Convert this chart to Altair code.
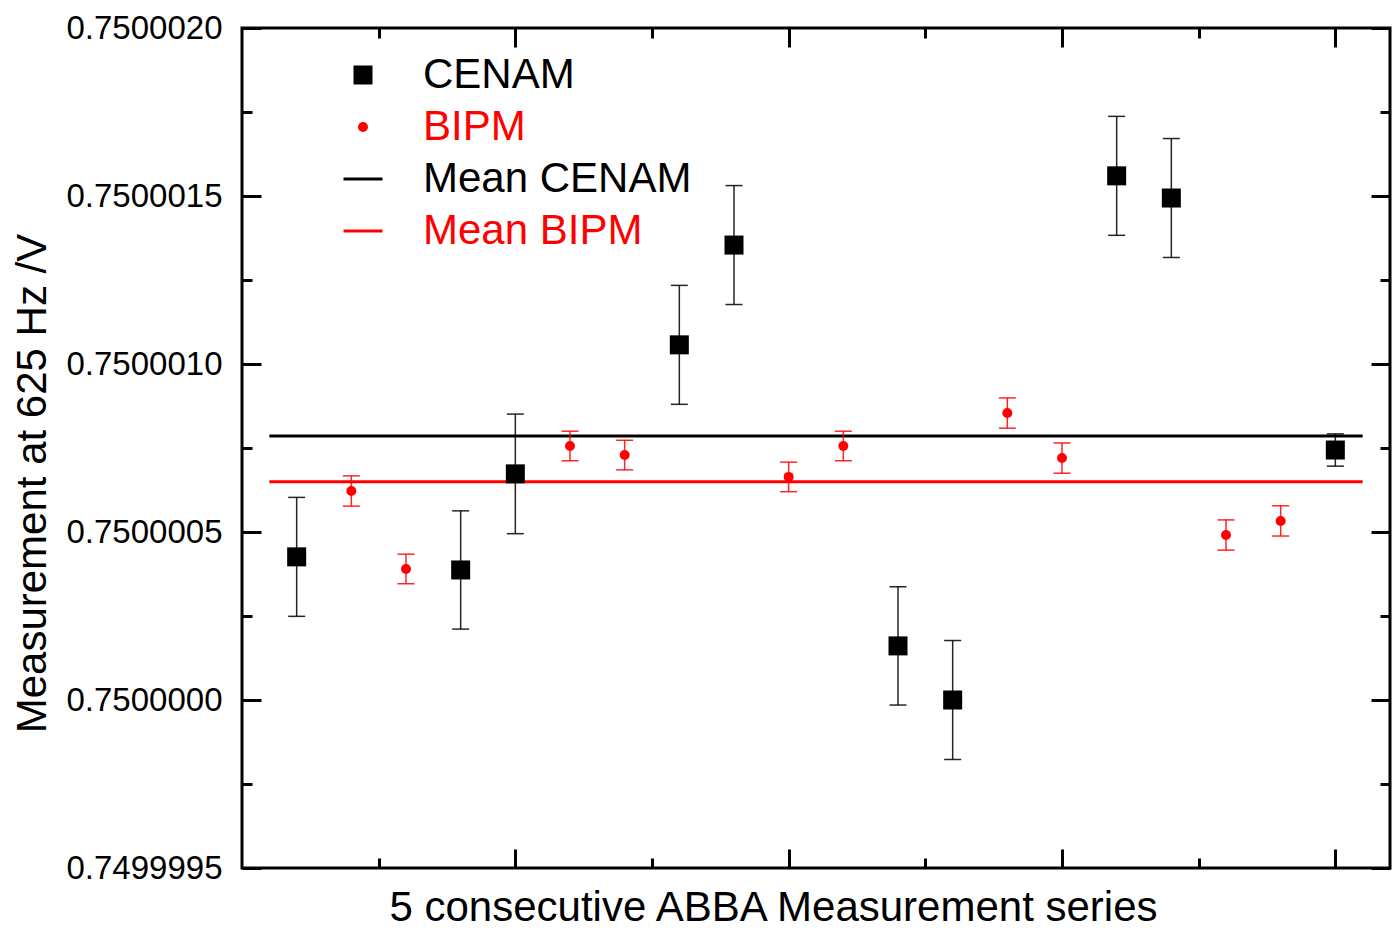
import altair as alt
import pandas as pd

FONT = "Liberation Sans"

# ---------------- data ----------------
series_names = ["CENAM", "BIPM", "Mean CENAM", "Mean BIPM"]
series_shapes = ["square", "circle", "stroke", "stroke"]
series_sizes = [361, 100, 1521, 1521]
# colour scale listed in another order (same mapping) so its legend stays separate
color_names = ["BIPM", "CENAM", "Mean BIPM", "Mean CENAM"]
color_values = ["#ff0000", "#000000", "#ff0000", "#000000"]

cenam_x = [1, 4, 5, 8, 9, 12, 13, 16, 17, 20]
cenam_y = [0.750000426, 0.750000387, 0.750000673, 0.750001057, 0.750001354,
           0.750000161, 0.750000000, 0.750001560, 0.750001494, 0.750000744]
cenam_err = [1.77e-7, 1.76e-7, 1.78e-7, 1.77e-7, 1.77e-7,
             1.76e-7, 1.77e-7, 1.77e-7, 1.77e-7, 0.48e-7]

bipm_x = [2, 3, 6, 7, 10, 11, 14, 15, 18, 19]
bipm_y = [0.750000622, 0.750000390, 0.750000756, 0.750000729, 0.750000664,
          0.750000756, 0.750000854, 0.750000720, 0.750000491, 0.750000533]
bipm_err = [0.45e-7, 0.44e-7, 0.44e-7, 0.44e-7, 0.44e-7,
            0.44e-7, 0.45e-7, 0.45e-7, 0.45e-7, 0.45e-7]

mean_names = ["Mean CENAM", "Mean BIPM"]
mean_values = [0.7500007857, 0.7500006493]
mean_x_start = [0.5, 0.5]
mean_x_end = [20.5, 20.5]

x_domain = [0, 21]
y_domain = [0.7499995, 0.7500020]
x_major = [5, 10, 15, 20]
x_minor = [2.5, 7.5, 12.5, 17.5]
y_major = [0.7499995, 0.7500000, 0.7500005, 0.7500010, 0.7500015, 0.7500020]
y_minor = [0.74999975, 0.75000025, 0.75000075, 0.75000125, 0.75000175]

x_title = "5 consecutive ABBA Measurement series"
y_title = "Measurement at 625 Hz /V"

# ---------------- tables ----------------
pts = pd.concat([
    pd.DataFrame({"x": cenam_x, "y": cenam_y, "err": cenam_err, "series": "CENAM"}),
    pd.DataFrame({"x": bipm_x, "y": bipm_y, "err": bipm_err, "series": "BIPM"}),
], ignore_index=True)
pts["lo"] = pts["y"] - pts["err"]
pts["hi"] = pts["y"] + pts["err"]

means = pd.DataFrame({"series": mean_names, "y": mean_values,
                      "xs": mean_x_start, "xe": mean_x_end})

xs = alt.Scale(domain=x_domain, nice=False, zero=False)
ys = alt.Scale(domain=y_domain, nice=False, zero=False)
color_scale = alt.Scale(domain=color_names, range=color_values)


def tick_axis(orient, values, size):
    return alt.Axis(orient=orient, values=values, tickSize=size, offset=-size,
                    ticks=True, tickWidth=3, tickColor="#000000", labels=False,
                    domain=False, grid=False, title=None)


legend = alt.Legend(
    title=None, orient="none", legendX=100, legendY=26, padding=0,
    labelOffset=39, rowPadding=10, labelLimit=600,
    labelFont=FONT, labelFontSize=42,
    labelColor=alt.ExprRef(expr="(datum.label == 'BIPM' || datum.label == 'Mean BIPM') ? '#ff0000' : '#000000'"),
    symbolFillColor=alt.ExprRef(expr="datum.value == 'CENAM' ? '#000000' : (datum.value == 'BIPM' ? '#ff0000' : 'transparent')"),
    symbolStrokeColor=alt.ExprRef(expr="datum.value == 'Mean CENAM' ? '#000000' : (datum.value == 'Mean BIPM' ? '#ff0000' : 'transparent')"),
    symbolStrokeWidth=3, symbolOpacity=1,
)

mean_layer = alt.Chart(means).mark_rule(strokeWidth=3).encode(
    x=alt.X("xs:Q", scale=xs, axis=tick_axis("top", x_minor, 10)),
    x2="xe:Q",
    y=alt.Y("y:Q", scale=ys, axis=tick_axis("right", y_minor, 10)),
    color=alt.Color("series:N", scale=color_scale, legend=None),
)

err_layer = alt.Chart(pts).mark_rule(strokeWidth=1.5, opacity=0.85).encode(
    x=alt.X("x:Q", scale=xs, axis=tick_axis("bottom", x_major, 19)),
    y=alt.Y("lo:Q", scale=ys, axis=tick_axis("left", y_major, 19)),
    y2="hi:Q",
    color=alt.Color("series:N", scale=color_scale, legend=None),
)

cap_lo = alt.Chart(pts).mark_tick(orient="horizontal", size=17, thickness=1.5, opacity=0.85).encode(
    x=alt.X("x:Q", scale=xs, axis=tick_axis("top", x_major, 19)),
    y=alt.Y("lo:Q", scale=ys, axis=tick_axis("right", y_major, 19)),
    color=alt.Color("series:N", scale=color_scale, legend=None),
)

cap_hi = alt.Chart(pts).mark_tick(orient="horizontal", size=17, thickness=1.5, opacity=0.85).encode(
    x=alt.X("x:Q", scale=xs, axis=tick_axis("bottom", x_minor, 10)),
    y=alt.Y("hi:Q", scale=ys, axis=tick_axis("left", y_minor, 10)),
    color=alt.Color("series:N", scale=color_scale, legend=None),
)

point_layer = alt.Chart(pts).mark_point(filled=True, opacity=1).encode(
    x=alt.X("x:Q", scale=xs, axis=alt.Axis(
        orient="bottom", labels=False, ticks=False, tickSize=0, domain=False, grid=False,
        title=x_title, titleFont=FONT, titleFontSize=42, titleFontWeight="normal",
        titleColor="#000000", titleX=531, titleY=52, titleBaseline="alphabetic")),
    y=alt.Y("y:Q", scale=ys, axis=alt.Axis(
        orient="left", values=y_major, format=".7f", labelFont=FONT, labelFontSize=33,
        labelColor="#000000", labelPadding=20, ticks=False, tickSize=0, domain=False,
        grid=False, title=y_title, titleFont=FONT, titleFontSize=42,
        titleFontWeight="normal", titleColor="#000000", titleX=-197, titleY=455,
        titleAngle=270, titleAlign="center", titleBaseline="alphabetic")),
    color=alt.Color("series:N", scale=color_scale, legend=None),
    shape=alt.Shape("series:N", scale=alt.Scale(domain=series_names, range=series_shapes), legend=legend),
    size=alt.Size("series:N", scale=alt.Scale(type="ordinal", domain=series_names, range=series_sizes), legend=legend),
)

chart = alt.layer(mean_layer, err_layer, cap_lo, cap_hi, point_layer).resolve_axis(
    x="independent", y="independent"
).properties(
    width=1148, height=840,
    padding={"left": 242, "top": 28, "right": 10, "bottom": 60},
    autosize=alt.AutoSizeParams(type="none"),
    background="#ffffff",
).configure_view(
    stroke="#000000", strokeWidth=3
)

chart.save("out.html", embed_options={"renderer": "svg", "actions": False})
